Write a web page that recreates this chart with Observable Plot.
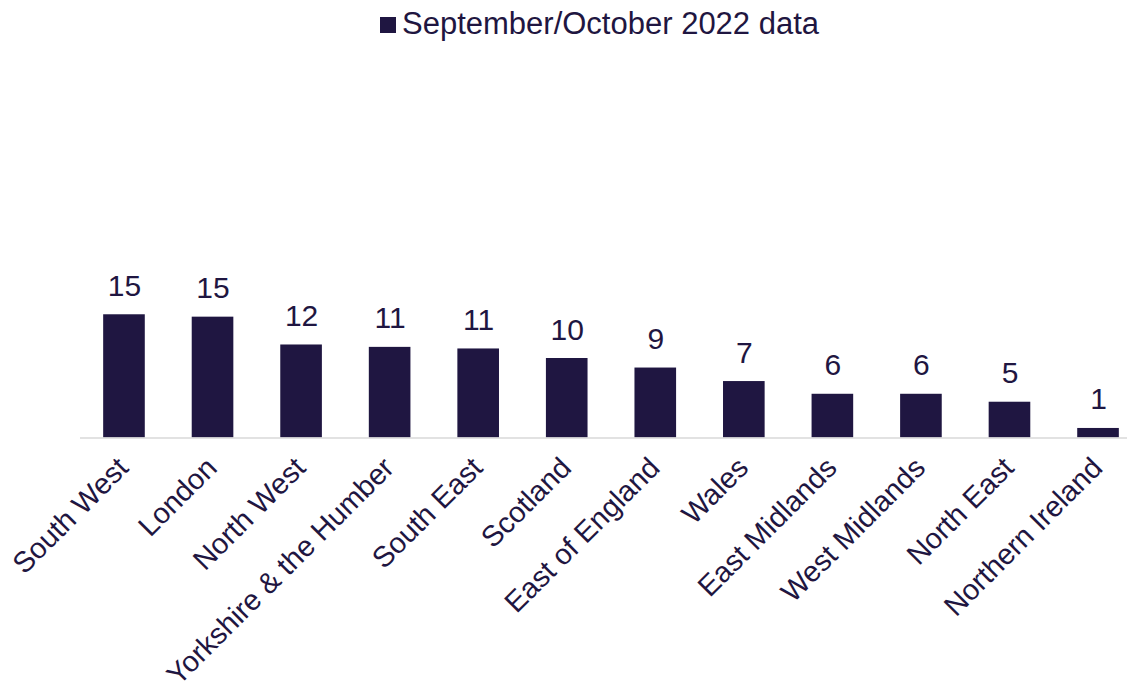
<!DOCTYPE html>
<html><head><meta charset="utf-8">
<script src="https://cdn.jsdelivr.net/npm/d3@7"></script>
<script src="https://cdn.jsdelivr.net/npm/@observablehq/plot@0.6"></script>
<style>
body{margin:0;background:#fff;font-family:"Liberation Sans",Arial,sans-serif;color:#1f1641;}
#legend{position:relative;height:50px;width:1127px;}
#legend .sw{position:absolute;left:380px;top:17px;width:16px;height:16px;background:#1f1641;}
#legend .lt{position:absolute;left:402px;top:8px;font-size:31px;line-height:31px;white-space:nowrap;}
#chart svg{display:block;}
</style></head><body>
<div id="legend"><span class="sw"></span><span class="lt"></span></div>
<div id="chart"></div>
<script>
const seriesName = "September/October 2022 data";
const regions = ["South West","London","North West","Yorkshire & the Humber","South East","Scotland","East of England","Wales","East Midlands","West Midlands","North East","Northern Ireland"];
const values = [15.5, 15.2, 11.7, 11.4, 11.2, 10.0, 8.8, 7.1, 5.5, 5.5, 4.5, 1.2];
const labels = ["15","15","12","11","11","10","9","7","6","6","5","1"];

document.querySelector("#legend .lt").textContent = seriesName;

const data = regions.map((r, i) => ({region: r, value: values[i], label: labels[i]}));
const navy = "#1f1641";
const chart = Plot.plot({
  width: 1127, height: 641,
  marginLeft: 80, marginRight: 0, marginTop: 228.5, marginBottom: 253.5,
  x: {domain: regions, range: [79.7, 1142.3], paddingInner: 0.53, paddingOuter: 0.265, round: false, label: null},
  y: {domain: [0, 20], axis: null},
  style: {fontFamily: "Liberation Sans, Arial, sans-serif", color: navy, background: "white", overflow: "visible"},
  marks: [
    Plot.barY(data, {x: "region", y: "value", fill: navy}),
    Plot.ruleY([0], {stroke: "#d9d9d9", strokeWidth: 1.5}),
    Plot.text(data, {x: "region", y: "value", text: "label", lineAnchor: "bottom", dy: -19, fontSize: 30, fill: navy}),
    Plot.axisX({tickSize: 0, tickRotate: -45, tickPadding: 25, dx: -1, fontSize: 29, label: null, fill: navy})
  ]
});
document.getElementById("chart").appendChild(chart);
</script>
</body></html>
